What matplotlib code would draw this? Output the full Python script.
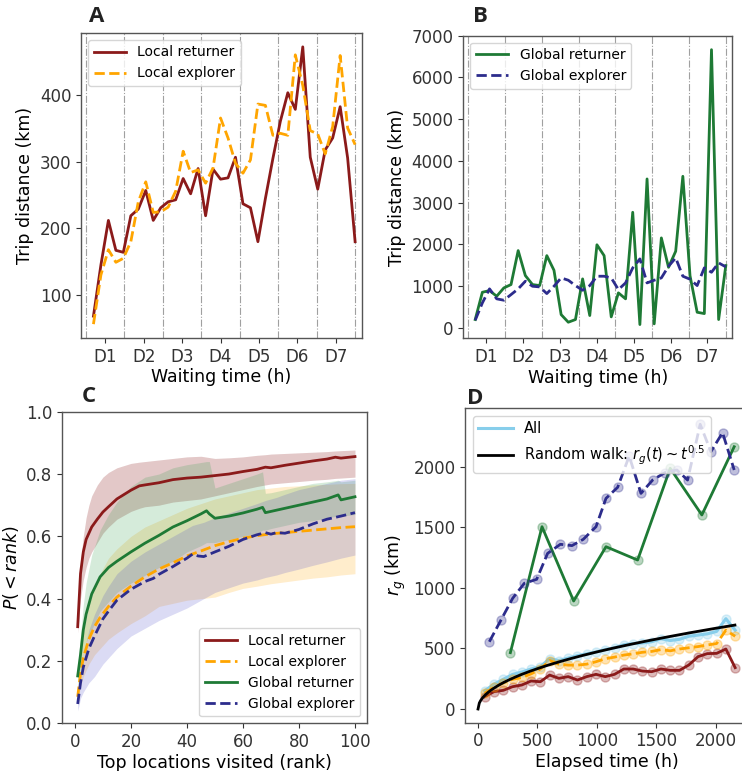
import numpy as np
import matplotlib
matplotlib.use("Agg")
import matplotlib.pyplot as plt

# ---------------- Panel A / B data (trip distance vs waiting time) ----------------
hours = [4.67, 9.33, 14.0, 18.67, 23.33, 28.0, 32.67, 37.33, 42.0, 46.67, 51.33, 56.0,
         60.67, 65.33, 70.0, 74.67, 79.33, 84.0, 88.67, 93.33, 98.0, 102.67, 107.33, 112.0,
         116.67, 121.33, 126.0, 130.67, 135.33, 140.0, 144.67, 149.33, 154.0, 158.67, 163.33, 168.0]
local_returner = [68, 145, 212, 167, 164, 219, 229, 257, 212, 231, 240, 243,
                  275, 252, 290, 219, 289, 274, 276, 307, 237, 231, 180, 245,
                  305, 361, 404, 379, 473, 307, 259, 318, 336, 383, 306, 180]
local_explorer = [56, 130, 168, 149, 155, 180, 240, 270, 224, 225, 232, 256,
                  316, 284, 288, 268, 291, 366, 336, 298, 283, 303, 387, 385,
                  340, 343, 340, 461, 415, 347, 342, 312, 353, 460, 351, 326]
global_returner = [199, 853, 893, 757, 957, 1037, 1851, 1253, 1037, 1013, 1731, 1380,
                   318, 135, 199, 1173, 295, 1990, 1731, 263, 838, 695, 2769, 79,
                   3568, 96, 2155, 1451, 1835, 3631, 1250, 374, 342, 6665, 199, 1492]
global_explorer = [183, 598, 934, 695, 662, 797, 934, 1117, 997, 981, 821, 997,
                   1197, 1141, 1013, 901, 1013, 1237, 1237, 1197, 917, 1077, 1437, 1652,
                   1077, 1141, 1197, 1476, 1676, 1237, 1165, 1013, 1437, 1332, 1557, 1461]
day_bounds = [0, 24, 48, 72, 96, 120, 144, 168]
day_ticks = [12, 36, 60, 84, 108, 132, 156]
day_labels = ["D1", "D2", "D3", "D4", "D5", "D6", "D7"]

# ---------------- Panel C data (P(<rank)) ----------------
rank_lr = [1, 2, 3, 4, 5, 6, 8, 10, 12, 15, 20, 23, 25, 30, 35, 40, 45, 50, 55, 60,
           65, 68, 70, 75, 80, 85, 90, 93, 95, 100]
p_lr = [0.31, 0.48, 0.55, 0.59, 0.61, 0.63, 0.655, 0.678, 0.695, 0.72, 0.748, 0.762, 0.765,
        0.772, 0.782, 0.787, 0.79, 0.795, 0.80, 0.808, 0.815, 0.822, 0.82, 0.828, 0.835,
        0.842, 0.848, 0.854, 0.851, 0.856]
p_lr_hi = [0.33, 0.52, 0.60, 0.66, 0.70, 0.73, 0.765, 0.79, 0.805, 0.82, 0.834, 0.838, 0.84,
           0.845, 0.85, 0.855, 0.857, 0.85, 0.852, 0.855, 0.86, 0.862, 0.864, 0.866, 0.868,
           0.87, 0.872, 0.874, 0.875, 0.877]
p_lr_lo = [0.29, 0.40, 0.46, 0.50, 0.53, 0.55, 0.58, 0.61, 0.63, 0.655, 0.68, 0.69, 0.695,
           0.70, 0.71, 0.715, 0.72, 0.73, 0.74, 0.75, 0.76, 0.765, 0.768, 0.772, 0.776,
           0.78, 0.783, 0.786, 0.787, 0.79]

rank_gr = [1, 2, 3, 4, 6, 9, 12, 15, 20, 25, 30, 35, 40, 45, 47, 48, 50, 55, 60, 65,
           67, 68, 70, 75, 80, 85, 90, 94, 95, 100]
p_gr = [0.152, 0.22, 0.30, 0.35, 0.415, 0.47, 0.50, 0.52, 0.55, 0.578, 0.603, 0.63, 0.65,
        0.672, 0.682, 0.672, 0.658, 0.665, 0.675, 0.687, 0.693, 0.676, 0.68, 0.69, 0.70,
        0.71, 0.72, 0.733, 0.717, 0.727]
p_gr_hi = [0.18, 0.28, 0.38, 0.45, 0.54, 0.62, 0.67, 0.71, 0.76, 0.79, 0.80, 0.82, 0.83,
           0.837, 0.84, 0.84, 0.755, 0.77, 0.785, 0.80, 0.807, 0.738, 0.74, 0.75, 0.76,
           0.77, 0.775, 0.78, 0.775, 0.78]
p_gr_lo = [0.12, 0.16, 0.22, 0.26, 0.30, 0.36, 0.39, 0.42, 0.45, 0.475, 0.50, 0.52, 0.55,
           0.57, 0.58, 0.58, 0.58, 0.59, 0.60, 0.61, 0.62, 0.62, 0.625, 0.635, 0.645,
           0.65, 0.66, 0.665, 0.665, 0.67]

rank_le = [1, 2, 3, 5, 7, 9, 12, 15, 20, 25, 30, 35, 40, 45, 50, 55, 60, 65, 70, 75,
           80, 85, 90, 95, 100]
p_le = [0.085, 0.16, 0.21, 0.27, 0.31, 0.34, 0.375, 0.405, 0.44, 0.47, 0.495, 0.515, 0.537,
        0.553, 0.57, 0.583, 0.594, 0.602, 0.608, 0.612, 0.616, 0.62, 0.624, 0.628, 0.631]
p_le_hi = [0.10, 0.22, 0.29, 0.38, 0.44, 0.48, 0.53, 0.56, 0.60, 0.63, 0.65, 0.67, 0.69,
           0.705, 0.72, 0.73, 0.74, 0.75, 0.755, 0.76, 0.762, 0.765, 0.767, 0.769, 0.77]
p_le_lo = [0.07, 0.12, 0.15, 0.19, 0.22, 0.24, 0.27, 0.29, 0.32, 0.345, 0.375, 0.385, 0.395,
           0.40, 0.405, 0.42, 0.433, 0.44, 0.448, 0.454, 0.46, 0.466, 0.47, 0.476, 0.48]

rank_ge = [1, 2, 3, 5, 7, 10, 12, 15, 20, 25, 28, 30, 35, 40, 42, 44, 46, 50, 55, 60,
           65, 68, 70, 72, 75, 80, 85, 90, 95, 100]
p_ge = [0.062, 0.13, 0.18, 0.24, 0.28, 0.335, 0.36, 0.395, 0.43, 0.455, 0.465, 0.478, 0.503,
        0.53, 0.543, 0.537, 0.535, 0.55, 0.568, 0.59, 0.605, 0.612, 0.607, 0.612, 0.61,
        0.622, 0.64, 0.655, 0.665, 0.676]
p_ge_hi = [0.08, 0.16, 0.22, 0.30, 0.35, 0.41, 0.44, 0.48, 0.52, 0.55, 0.565, 0.575, 0.60,
           0.625, 0.635, 0.64, 0.645, 0.66, 0.675, 0.69, 0.705, 0.715, 0.72, 0.725, 0.735,
           0.75, 0.76, 0.77, 0.78, 0.785]
p_ge_lo = [0.04, 0.08, 0.10, 0.13, 0.15, 0.19, 0.21, 0.24, 0.28, 0.305, 0.32, 0.33, 0.35,
           0.37, 0.38, 0.39, 0.40, 0.42, 0.435, 0.45, 0.46, 0.468, 0.472, 0.476, 0.484,
           0.495, 0.507, 0.518, 0.53, 0.54]

# ---------------- Panel D data (radius of gyration vs elapsed time) ----------------
t_small = [56, 134, 212, 290, 368, 446, 524, 602, 680, 758, 836, 914, 992, 1070, 1148,
           1226, 1304, 1382, 1460, 1538, 1616, 1694, 1772, 1850, 1928, 2006, 2084, 2162]
rg_all = [150, 205, 245, 285, 305, 330, 350, 415, 400, 420, 440, 455, 470, 490, 505,
          530, 540, 545, 555, 580, 565, 575, 600, 610, 620, 640, 745, 650]
rg_local_returner = [101, 143, 154, 184, 198, 231, 225, 280, 253, 267, 239, 267, 286, 267, 286,
                     330, 330, 313, 308, 330, 319, 319, 363, 432, 457, 459, 495, 341]
rg_local_explorer = [130, 180, 215, 245, 260, 290, 330, 400, 370, 362, 362, 370, 390, 415, 428,
                     445, 455, 468, 475, 490, 480, 495, 505, 515, 528, 540, 650, 600]
t_global_returner = [272, 538, 804, 1076, 1342, 1616, 1882, 2154]
rg_global_returner = [465, 1504, 891, 1339, 1229, 1986, 1601, 2164]
t_global_explorer = [95, 193, 291, 389, 493, 585, 692, 790, 885, 992, 1076, 1174, 1271, 1370,
                     1468, 1571, 1672, 1762, 1868, 1958, 2056, 2154]
rg_global_explorer = [555, 734, 913, 1037, 1070, 1284, 1359, 1348, 1400, 1504, 1738, 1829, 2087,
                      1779, 1889, 1950, 1972, 1889, 2349, 2123, 2280, 1972]
rw_coef = 14.9
rw_tmax = 2160

# ---------------- styling ----------------
C_LR = "#8B1A1A"
C_LE = "#FFA500"
C_GR = "#1E7A35"
C_GE = "#2C2C8C"
C_ALL = "#87CEEB"

plt.rcParams.update({
    "font.family": ["DejaVu Sans"],
    "font.size": 12,
    "axes.edgecolor": "#555555",
    "axes.linewidth": 1.0,
    "xtick.color": "#333333",
    "ytick.color": "#333333",
    "xtick.labelsize": 12,
    "ytick.labelsize": 12,
    "axes.labelsize": 12.5,
    "legend.fontsize": 10,
    "legend.handlelength": 2.35,
})

W, H = 742, 771
fig = plt.figure(figsize=(W / 100, H / 100), dpi=100)


def add_ax(l, t, r, b):
    return fig.add_axes([l / W, 1 - b / H, (r - l) / W, (b - t) / H])


axA = add_ax(81, 33, 362, 338)
axB = add_ax(463.3, 35.7, 732.4, 338.3)
axC = add_ax(62.3, 411.7, 367.3, 723.3)
axD = add_ax(465.3, 408.3, 748, 722.7)

# Panel A
for xb in day_bounds:
    axA.axvline(xb, color="#a0a0a0", ls="-.", lw=0.8, zorder=0)
axA.plot(hours, local_returner, color=C_LR, lw=2, label="Local returner")
axA.plot(hours, local_explorer, color=C_LE, lw=2, ls="--", label="Local explorer")
axA.set_xlim(-3.1, 172.3)
axA.set_xticks(day_ticks)
axA.set_xticklabels(day_labels)
axA.set_yticks([100, 200, 300, 400])
axA.set_xlabel("Waiting time (h)", labelpad=2)
axA.set_ylabel("Trip distance (km)")
axA.legend(loc="upper left")

# Panel B
for xb in day_bounds:
    axB.axvline(xb, color="#a0a0a0", ls="-.", lw=0.8, zorder=0)
axB.plot(hours, global_returner, color=C_GR, lw=2, label="Global returner")
axB.plot(hours, global_explorer, color=C_GE, lw=2, ls="--", label="Global explorer")
axB.set_xlim(-3.1, 172.3)
axB.set_xticks(day_ticks)
axB.set_xticklabels(day_labels)
axB.set_yticks(range(0, 7001, 1000))
axB.set_xlabel("Waiting time (h)", labelpad=2)
axB.set_ylabel("Trip distance (km)")
axB.legend(loc="upper left")

# Panel C
axC.fill_between(rank_lr, p_lr_lo, p_lr_hi, color=C_LR, alpha=0.24, lw=0)
axC.fill_between(rank_le, p_le_lo, p_le_hi, color=C_LE, alpha=0.2, lw=0)
axC.fill_between(rank_gr, p_gr_lo, p_gr_hi, color="#2E9E4A", alpha=0.2, lw=0)
axC.fill_between(rank_ge, p_ge_lo, p_ge_hi, color="#4B4BC8", alpha=0.2, lw=0)
axC.plot(rank_lr, p_lr, color=C_LR, lw=2, label="Local returner")
axC.plot(rank_le, p_le, color=C_LE, lw=2, ls="--", label="Local explorer")
axC.plot(rank_gr, p_gr, color=C_GR, lw=2, label="Global returner")
axC.plot(rank_ge, p_ge, color=C_GE, lw=2, ls="--", label="Global explorer")
axC.set_xlim(-4.5, 104.4)
axC.set_ylim(0, 1.0)
axC.set_xticks([0, 20, 40, 60, 80, 100])
axC.set_yticks([0.0, 0.2, 0.4, 0.6, 0.8, 1.0])
axC.set_xlabel("Top locations visited (rank)", labelpad=2)
axC.set_ylabel(r"$P( < rank)$")
axC.legend(loc="lower right")

# Panel D
rw_t = np.linspace(0, rw_tmax, 200)
mk = dict(marker="o", ls="none", ms=6.5, alpha=0.3)
axD.plot(t_small, rg_all, color=C_ALL, lw=2.2, label="All")
axD.plot(t_small, rg_all, color=C_ALL, **mk)
axD.plot(t_small, rg_local_returner, color=C_LR, lw=2)
axD.plot(t_small, rg_local_returner, color=C_LR, **mk)
axD.plot(t_small, rg_local_explorer, color=C_LE, lw=2, ls="--")
axD.plot(t_small, rg_local_explorer, color=C_LE, **mk)
axD.plot(t_global_returner, rg_global_returner, color=C_GR, lw=2)
axD.plot(t_global_returner, rg_global_returner, color=C_GR, **mk)
axD.plot(t_global_explorer, rg_global_explorer, color=C_GE, lw=2, ls="--")
axD.plot(t_global_explorer, rg_global_explorer, color=C_GE, **mk)
axD.plot(rw_t, rw_coef * np.sqrt(rw_t), color="black", lw=2,
         label=r"Random walk: $r_g(t) \sim t^{0.5}$")
axD.set_xlim(-107, 2270)
axD.set_ylim(-113, 2481)
axD.set_xticks([0, 500, 1000, 1500, 2000])
axD.set_yticks([0, 500, 1000, 1500, 2000])
axD.set_xlabel("Elapsed time (h)", labelpad=2)
axD.set_ylabel(r"$r_g$ (km)")
axD.legend(loc="upper left", fontsize=10.5)

# Panel letters
for (x, y, s) in [(97, 17, "A"), (480, 17, "B"), (89, 397, "C"), (475, 398, "D")]:
    fig.text(x / W, 1 - y / H, s, fontsize=16, fontweight="bold",
             family=["Open Sans", "DejaVu Sans"], ha="center", va="center", color="#222222")

fig.savefig("out.png", dpi=100)
